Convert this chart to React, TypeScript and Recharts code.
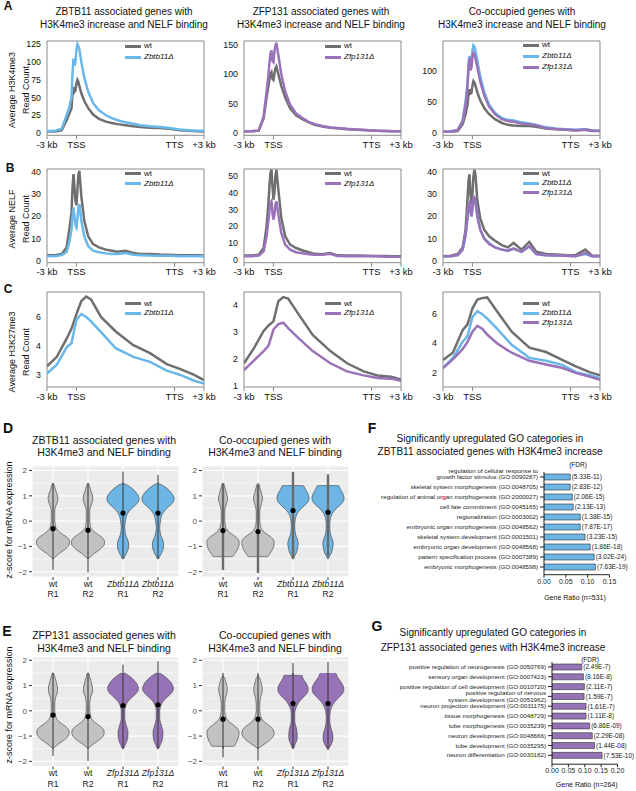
import React from 'react';
import {
  LineChart, Line, XAxis, YAxis, ReferenceArea, ComposedChart, Area,
  ReferenceLine, ReferenceDot, CartesianGrid, BarChart, Bar, LabelList,
} from 'recharts';

const FONT = '"Liberation Sans", Arial, Helvetica, sans-serif';
const WT = '#6f6f6f';
const BLUE = '#6ab7ea';
const PURPLE = '#9a72b9';
const V_GRAY = '#c2c2c2';
const V_BLUE = '#6cb5e5';
const V_PURPLE = '#9573b6';

// ---- metagene profiles (bin 0 = -3 kb, 30 = TSS, 130 = TTS, 160 = +3 kb) ----
const profileTicks = [0, 30, 130, 160];
const profileTickLabels = ['-3 kb', 'TSS', 'TTS', '+3 kb'];
const peakBins = [0, 8, 15, 20, 23, 25, 26, 27, 28, 29, 30, 31, 32, 33, 35, 38, 42, 47, 53, 60, 66, 72, 80, 88, 95, 105, 115, 125, 135, 145, 152, 160];
const broadBins = [0, 10, 20, 25, 30, 35, 40, 45, 55, 70, 88, 105, 122, 136, 150, 160];

// A: H3K4me3
const a1Wt = [2, 2, 4, 18, 28, 35, 55, 65, 58, 60, 70, 75, 72, 66, 56, 45, 35, 26, 20, 16, 14, 12.5, 11, 9.5, 8.5, 7.5, 7, 6, 4, 3, 2.5, 2];
const a1Zbtb = [2.5, 3, 6, 25, 38, 50, 85, 105, 95, 100, 118, 125, 122, 118, 100, 78, 58, 42, 32, 25, 21, 18, 15, 13, 11, 9.5, 8.5, 7, 5, 4, 3, 3];
const a2Wt = [3, 3, 4, 25, 60, 80, 92, 100, 103, 92, 90, 100, 110, 113, 100, 80, 60, 42, 30, 23, 18, 14, 11, 9, 8, 6.5, 5.5, 4.5, 4, 3.5, 3, 3];
const a2Zfp = [3, 3, 4, 28, 70, 100, 120, 135, 140, 122, 120, 138, 148, 153, 132, 100, 70, 48, 33, 25, 19, 15, 12, 9.5, 8.5, 7, 6, 5, 4, 3.5, 3, 3];
const a3Wt = [2, 2, 3, 14, 30, 45, 62, 70, 63, 64, 76, 83, 81, 76, 65, 52, 40, 30, 22, 16, 13, 12, 11, 11, 10, 7, 6, 5, 4, 5, 3, 3];
const a3Zbtb = [2, 2.5, 5, 20, 50, 80, 110, 123, 110, 112, 132, 140, 138, 132, 115, 90, 65, 45, 32, 24, 21, 20, 17, 15, 13, 9, 7, 6, 5, 6, 4, 3.5];
const a3Zfp = [2, 2.5, 5, 18, 45, 75, 105, 120, 100, 105, 122, 128, 126, 120, 105, 82, 60, 42, 30, 22, 19, 18, 15, 14, 12, 8, 6.5, 5.5, 4.5, 5.5, 4, 3.5];

// B: NELF
const b1Wt = [2.5, 2.5, 3, 6, 15, 22, 33, 39, 33, 27, 25, 32, 39, 40.5, 29, 18, 11, 7.5, 6, 5, 4.5, 4, 4.5, 3.5, 3, 3, 2.8, 2.7, 2.5, 2.5, 2.4, 2.3];
const b1Zbtb = [2, 2, 2.5, 4, 9, 14, 20, 24, 20, 16, 15, 19, 24, 25.5, 18, 11, 6.5, 4.5, 3.8, 3.3, 3, 3, 3.5, 2.7, 2.5, 2.3, 2.2, 2.2, 2, 2, 2, 2];
const b2Wt = [2.5, 2.5, 3, 7, 20, 35, 45, 52, 54, 44, 36, 40, 50, 54, 42, 25, 14, 9, 7, 5.5, 4.5, 3.5, 3.2, 4, 2.6, 2.5, 2.5, 2.3, 2.2, 2.2, 2, 2];
const b2Zfp = [2, 2, 2.5, 5, 14, 24, 30, 34, 35, 28, 24, 27, 33, 35, 27, 16, 9, 6, 4.5, 3.8, 3.3, 3, 3, 3.5, 2.2, 2, 2, 2, 2, 1.8, 1.8, 1.8];
const b3Wt = [2, 2.2, 3, 6, 14, 28, 36, 39, 30, 25, 30, 38, 41, 39, 27, 19, 14, 11, 9, 7, 6, 8, 5, 8.5, 4, 3, 2.8, 2.6, 2.5, 5, 2.3, 2.2];
const b3Zbtb = [2, 2, 2.5, 5, 11, 19, 24, 25, 22, 20, 23, 27, 28, 27, 20, 14, 10, 8, 6, 5, 4.5, 5.5, 4, 6.5, 3, 2.5, 2.3, 2.2, 2, 3, 2, 2];
const b3Zfp = [2, 2, 2.5, 5, 12, 20, 25, 26, 22, 20, 24, 28, 28.5, 27, 20, 14, 10, 7.5, 6, 5, 4.5, 5.5, 4, 6.5, 3, 2.5, 2.3, 2.2, 2, 3.5, 2, 2];

// C: H3K27me3
const c1Wt = [2.6, 3.25, 4.5, 5.2, 6.2, 7.1, 7.4, 7.2, 6.0, 5.0, 4.05, 3.5, 2.75, 2.4, 2.0, 1.65];
const c1Zbtb = [2.1, 2.7, 3.9, 4.2, 5.8, 6.2, 6.0, 5.7, 4.95, 3.85, 3.25, 2.9, 2.3, 2.0, 1.6, 1.4];
const c2Wt = [1.85, 2.4, 3.05, 3.25, 3.4, 4.15, 4.3, 4.25, 3.7, 2.9, 2.3, 1.85, 1.55, 1.4, 1.35, 1.25];
const c2Zfp = [1.6, 1.95, 2.3, 2.5, 3.1, 3.3, 3.35, 3.15, 2.8, 2.3, 1.85, 1.55, 1.4, 1.3, 1.28, 1.2];
const c3Wt = [2.85, 3.35, 4.9, 5.3, 6.4, 7.0, 7.1, 7.15, 6.2, 4.8, 3.7, 3.4, 2.85, 2.4, 2.0, 1.8];
const c3Zbtb = [2.3, 3.0, 4.1, 4.5, 5.8, 6.2, 6.0, 5.7, 5.0, 3.9, 3.0, 2.8, 2.5, 2.0, 1.8, 1.6];
const c3Zfp = [2.3, 2.9, 3.6, 4.1, 4.8, 5.2, 5.0, 4.6, 4.0, 3.35, 2.8, 2.55, 2.3, 1.95, 1.7, 1.5];

// ---- violins: half-widths (category units) at each z ----
const zGrid = [-1.5, -1.41, -1.4, -1.3, -1.2, -1.1, -1.0, -0.9, -0.8, -0.7, -0.6, -0.5, -0.4, -0.3, -0.2, -0.1, 0, 0.1, 0.2, 0.3, 0.4, 0.5, 0.6, 0.7, 0.8, 0.9, 1.0, 1.1, 1.2, 1.3, 1.4, 1.41, 1.5];
const zTicks = [-2, -1, 0, 1, 2];
const zMinor = [-1.5, -0.5, 0.5, 1.5];
const dWt = [0, 0.07, 0.08, 0.16, 0.26, 0.36, 0.43, 0.47, 0.47, 0.44, 0.36, 0.25, 0.16, 0.1, 0.07, 0.06, 0.05, 0.05, 0.05, 0.05, 0.05, 0.06, 0.08, 0.11, 0.13, 0.14, 0.13, 0.11, 0.08, 0.06, 0.04, 0.04, 0];
const dKo = [0, 0.05, 0.05, 0.09, 0.12, 0.15, 0.16, 0.16, 0.15, 0.12, 0.09, 0.07, 0.06, 0.05, 0.05, 0.06, 0.07, 0.08, 0.1, 0.13, 0.18, 0.25, 0.33, 0.4, 0.45, 0.46, 0.44, 0.39, 0.33, 0.25, 0.15, 0.14, 0];
const d2Wt = [0, 0, 0.28, 0.33, 0.38, 0.42, 0.45, 0.46, 0.46, 0.42, 0.34, 0.24, 0.15, 0.1, 0.07, 0.06, 0.05, 0.05, 0.05, 0.05, 0.05, 0.06, 0.08, 0.1, 0.12, 0.13, 0.12, 0.1, 0.08, 0.06, 0.04, 0.04, 0];
const d2Ko = [0, 0.04, 0.04, 0.08, 0.11, 0.13, 0.14, 0.15, 0.14, 0.12, 0.09, 0.07, 0.06, 0.05, 0.05, 0.05, 0.06, 0.07, 0.09, 0.12, 0.17, 0.24, 0.32, 0.39, 0.44, 0.46, 0.45, 0.42, 0.38, 0.34, 0.3, 0, 0];
const eWt = [0, 0.07, 0.08, 0.17, 0.27, 0.37, 0.43, 0.46, 0.46, 0.42, 0.34, 0.24, 0.15, 0.1, 0.07, 0.06, 0.05, 0.05, 0.05, 0.05, 0.06, 0.07, 0.09, 0.12, 0.13, 0.13, 0.12, 0.1, 0.08, 0.06, 0.04, 0.04, 0];
const eKo = [0, 0.05, 0.05, 0.08, 0.11, 0.13, 0.14, 0.14, 0.14, 0.12, 0.1, 0.08, 0.06, 0.05, 0.05, 0.05, 0.05, 0.06, 0.08, 0.11, 0.16, 0.23, 0.31, 0.38, 0.43, 0.44, 0.42, 0.38, 0.32, 0.25, 0.16, 0.15, 0.05];
const e2Wt1 = [0, 0, 0.32, 0.36, 0.4, 0.43, 0.45, 0.46, 0.45, 0.41, 0.33, 0.24, 0.15, 0.1, 0.07, 0.06, 0.05, 0.05, 0.05, 0.05, 0.06, 0.07, 0.09, 0.11, 0.12, 0.12, 0.11, 0.09, 0.07, 0.05, 0, 0, 0];
const e2Wt2 = [0, 0.09, 0.1, 0.2, 0.3, 0.38, 0.44, 0.46, 0.45, 0.41, 0.33, 0.24, 0.15, 0.1, 0.07, 0.06, 0.05, 0.05, 0.05, 0.05, 0.06, 0.07, 0.09, 0.11, 0.12, 0.12, 0.11, 0.09, 0.07, 0.05, 0, 0, 0];
const e2Ko1 = [0, 0.04, 0.04, 0.07, 0.1, 0.12, 0.12, 0.12, 0.11, 0.1, 0.08, 0.06, 0.05, 0.05, 0.05, 0.05, 0.06, 0.08, 0.11, 0.15, 0.2, 0.27, 0.34, 0.4, 0.43, 0.43, 0.41, 0.37, 0.32, 0.28, 0.26, 0, 0];
const e2Ko2 = [0.03, 0.06, 0.07, 0.1, 0.13, 0.14, 0.14, 0.13, 0.11, 0.09, 0.07, 0.06, 0.05, 0.05, 0.05, 0.06, 0.07, 0.09, 0.12, 0.16, 0.22, 0.29, 0.36, 0.42, 0.45, 0.45, 0.43, 0.39, 0.34, 0.29, 0.25, 0.25, 0.21];

const dCats = ['wt', 'wt', 'Zbtb11Δ', 'Zbtb11Δ'];
const eCats = ['wt', 'wt', 'Zfp131Δ', 'Zfp131Δ'];
const reps = ['R1', 'R2', 'R1', 'R2'];
const d1Means = [-0.3, -0.36, 0.32, 0.32];
const d1Lo = [-1.93, -2.03, -1.5, -1.5];
const d1Hi = [1.5, 1.5, 1.96, 1.83];
const d2Means = [-0.37, -0.41, 0.42, 0.35];
const d2Lo = [-1.93, -2.05, -1.48, -1.4];
const d2Hi = [1.5, 1.45, 1.95, 1.85];
const e1Means = [-0.17, -0.23, 0.21, 0.24];
const e1Lo = [-1.78, -1.98, -1.52, -1.52];
const e1Hi = [1.51, 1.5, 1.83, 1.96];
const e2Means = [-0.33, -0.33, 0.29, 0.29];
const e2Lo = [-1.85, -1.97, -1.5, -1.55];
const e2Hi = [1.4, 1.42, 1.89, 1.93];

// ---- GO enrichment ----
const fTerms = [
  'regulation of cellular response to\ngrowth factor stimulus (GO:0090287)',
  'skeletal system morphogenesis (GO:0048705)',
  'regulation of animal organ morphogenesis (GO:2000027)',
  'cell fate commitment (GO:0045165)',
  'regionalization (GO:0003002)',
  'embryonic organ morphogenesis (GO:0048562)',
  'skeletal system development (GO:0001501)',
  'embryonic organ development (GO:0048568)',
  'pattern specification process (GO:0007389)',
  'embryonic morphogenesis (GO:0048598)',
];
const fRatios = [0.06, 0.06, 0.065, 0.067, 0.083, 0.083, 0.094, 0.106, 0.115, 0.118];
const fFdr = ['(5.33E-11)', '(2.83E-12)', '(2.06E-15)', '(2.13E-13)', '(1.38E-15)', '(7.87E-17)', '(3.23E-15)', '(1.86E-18)', '(3.02E-24)', '(7.63E-19)'];
const fTicks = [0, 0.05, 0.1, 0.15];

const gTerms = [
  'positive regulation of neurogenesis (GO:0050769)',
  'sensory organ development (GO:0007423)',
  'positive regulation of cell development (GO:0010720)',
  'positive regulation of nervous\nsystem development (GO:0051962)',
  'neuron projection development (GO:0031175)',
  'tissue morphogenesis (GO:0048729)',
  'tube morphogenesis (GO:0035239)',
  'neuron development (GO:0048666)',
  'tube development (GO:0035295)',
  'neuron differentiation (GO:0030182)',
];
const gRatios = [0.091, 0.096, 0.099, 0.098, 0.104, 0.104, 0.115, 0.123, 0.13, 0.153];
const gFdr = ['(2.49E-7)', '(8.16E-8)', '(2.11E-7)', '(1.59E-7)', '(1.61E-7)', '(1.11E-8)', '(6.86E-09)', '(2.29E-08)', '(1.44E-08)', '(7.53E-10)'];
const gTicks = [0, 0.05, 0.1, 0.15, 0.2];

type Row = Record<string, any>;
type Series = { name: string; values: number[]; color: string };

function Txt({ x, y, size = 10, anchor = 'middle', bold = false, italic = false, rotate = false, color = '#111', children }: any) {
  const tx = anchor === 'middle' ? '-50%' : anchor === 'end' ? '-100%' : '0';
  return (
    <div
      style={{
        position: 'absolute', left: x, top: y, whiteSpace: 'nowrap', lineHeight: 1,
        fontSize: size, fontWeight: bold ? 700 : 400, fontStyle: italic ? 'italic' : 'normal', color,
        transform: `translate(${rotate ? '-50%' : tx}, -50%)${rotate ? ' rotate(-90deg)' : ''}`,
      }}
    >
      {children}
    </div>
  );
}

function LegendBox({ x, y, gap, items }: { x: number; y: number; gap: number; items: Series[] }) {
  return (
    <>
      {items.map((s, i) => (
        <div key={s.name} style={{ position: 'absolute', left: x, top: y + i * gap, transform: 'translateY(-50%)', display: 'flex', alignItems: 'center', lineHeight: 1 }}>
          <span style={{ display: 'inline-block', width: 16, height: 3, background: s.color, marginRight: 3 }} />
          <span style={{ fontSize: 8, fontStyle: s.name === 'wt' ? 'normal' : 'italic', color: '#111' }}>{s.name}</span>
        </div>
      ))}
    </>
  );
}

function Profile({ x, y, w, h, bins, series, domain, ticks, tickText }: any) {
  const yw = 36, xh = 20, mr = 18, mt = 3;
  const data = bins.map((b: number, i: number) => {
    const row: Row = { bin: b };
    series.forEach((s: Series, k: number) => { row['s' + k] = s.values[i]; });
    return row;
  });
  return (
    <div style={{ position: 'absolute', left: x - yw, top: y - mt }}>
      <LineChart width={yw + w + mr} height={mt + h + xh} data={data} margin={{ top: mt, right: mr, bottom: 0, left: 0 }}>
        <XAxis
          dataKey="bin" type="number" domain={[0, 160]} ticks={profileTicks} interval={0} allowDataOverflow
          tickFormatter={(v: number) => profileTickLabels[profileTicks.indexOf(v)]}
          axisLine={false} tickLine={{ stroke: '#8a8a8a' }} tickSize={4} tickMargin={2}
          tick={{ fontSize: 9.5, fill: '#111' }} height={xh}
        />
        <YAxis
          type="number" domain={domain} ticks={ticks} interval={0} allowDataOverflow
          tickFormatter={(v: number) => (tickText ? tickText[ticks.indexOf(v)] : String(v))}
          axisLine={false} tickLine={false} tickSize={4} tickMargin={2} width={yw}
          tick={{ fontSize: 8.8, fill: '#111' }}
        />
        <ReferenceArea x1={0} x2={160} y1={domain[0]} y2={domain[1]} fill="none" stroke="#8a8a8a" strokeWidth={1} ifOverflow="visible" />
        {series.map((s: Series, k: number) => (
          <Line key={s.name} dataKey={'s' + k} type="linear" stroke={s.color} strokeWidth={2.5} dot={false} isAnimationActive={false} />
        ))}
      </LineChart>
    </div>
  );
}

function ViolinTick(props: any) {
  const { x, y, payload, cats } = props;
  const i = Math.round(payload.value) - 1;
  if (i < 0 || i > 3) return null;
  return (
    <text x={x} y={y} textAnchor="middle" fontSize={8.6} fill="#1a1a1a">
      <tspan x={x} dy="0.71em" fontStyle={cats[i] === 'wt' ? 'normal' : 'italic'}>{cats[i]}</tspan>
      <tspan x={x} dy="1.2em">{reps[i]}</tspan>
    </text>
  );
}

function ViolinPanel({ x, y, w, h, domain, shapes, fill, cats, means, lo, hi, whisker }: any) {
  const yw = 32, xh = 28, mt = 2, mr = 4;
  const data = zGrid.map((z, i) => {
    const row: Row = { z };
    shapes.forEach((s: number[], k: number) => { row['w' + k] = s[i]; });
    return row;
  });
  return (
    <div style={{ position: 'absolute', left: x - yw, top: y - mt }}>
      <ComposedChart layout="vertical" width={yw + w + mr} height={mt + h + xh} data={data} margin={{ top: mt, right: mr, bottom: 0, left: 0 }}>
        <CartesianGrid fill="#ebebeb" stroke="#ffffff" strokeWidth={0.5} vertical={false} horizontalValues={zMinor} />
        <CartesianGrid stroke="#ffffff" strokeWidth={1.1} />
        <XAxis
          type="number" domain={[0.4, 4.6]} ticks={[1, 2, 3, 4]} interval={0} allowDataOverflow
          axisLine={false} tickLine={{ stroke: '#333' }} tickSize={3} tickMargin={1} height={xh}
          tick={(p: any) => <ViolinTick {...p} cats={cats} />}
        />
        <YAxis
          type="number" dataKey="z" domain={domain} ticks={zTicks} interval={0} reversed allowDataOverflow
          axisLine={false} tickLine={{ stroke: '#333' }} tickSize={3} tickMargin={2} width={yw}
          tickFormatter={(v: number) => String(v).replace('-', '−')}
          tick={{ fontSize: 8, fill: '#4d4d4d' }}
        />
        {shapes.map((_s: any, k: number) => (
          <Area
            key={'v' + k}
            dataKey={(d: Row) => [k + 1 - d['w' + k], k + 1 + d['w' + k]]}
            type="monotone" fill={fill[k]} fillOpacity={1} stroke="#3a3a3a" strokeWidth={0.6}
            isAnimationActive={false} dot={false} activeDot={false}
          />
        ))}
        {means.map((_m: number, k: number) => (
          <ReferenceLine key={'l' + k} segment={[{ x: k + 1, y: lo[k] }, { x: k + 1, y: hi[k] }]} stroke={whisker.color} strokeWidth={whisker.width} ifOverflow="visible" />
        ))}
        {means.map((m: number, k: number) => (
          <ReferenceDot key={'d' + k} x={k + 1} y={m} r={2.6} fill="#000" stroke="none" ifOverflow="visible" />
        ))}
      </ComposedChart>
    </div>
  );
}

function GoTick(props: any) {
  const { x, y, payload, centered } = props;
  const lines = String(payload.value).split('\n');
  const lh = 6.2;
  const first = centered ? -((lines.length - 1) * lh) / 2 : -(lines.length - 1) * lh;
  return (
    <text x={x} y={y} textAnchor="end" fontSize={6.2} fill="#222">
      {lines.map((l, i) => (
        <tspan key={i} x={x} y={y + first + i * lh} dy="0.35em">{l}</tspan>
      ))}
    </text>
  );
}

function GoChart({ x, y, w, h, padBottom, terms, ratios, fdrs, color, ticks, centered }: any) {
  const yw = 200, xh = 16, mt = 10, mr = 30;
  const data = terms.map((t: string, i: number) => ({ term: t, ratio: ratios[i], fdr: fdrs[i] }));
  return (
    <div style={{ position: 'absolute', left: x - yw, top: y - mt }}>
      <BarChart layout="vertical" width={yw + w + mr} height={mt + h + xh} data={data} margin={{ top: mt, right: mr, bottom: 0, left: 0 }}>
        <XAxis
          type="number" domain={[0, ticks[ticks.length - 1]]} ticks={ticks} interval={0} allowDataOverflow
          tickFormatter={(v: number) => v.toFixed(2)} axisLine={{ stroke: '#222' }} tickLine={{ stroke: '#222' }}
          tickSize={3} tickMargin={1} tick={{ fontSize: 7, fill: '#222' }} height={xh}
        />
        <YAxis
          type="category" dataKey="term" width={yw} interval={0} padding={{ top: 0, bottom: padBottom }}
          axisLine={{ stroke: '#222' }} tickLine={{ stroke: '#222' }} tickSize={4} tickMargin={2}
          tick={(p: any) => <GoTick {...p} centered={centered} />}
        />
        <Bar dataKey="ratio" fill={color} stroke="#333" strokeWidth={0.6} barSize={6} isAnimationActive={false}>
          <LabelList dataKey="fdr" position="right" offset={1.5} fontSize={6.5} fill="#222" />
        </Bar>
      </BarChart>
    </div>
  );
}

const COLS = [47, 243.5, 443];
const PW = 157;

export default function App() {
  const legendX = [125, 325, 523];
  return (
    <div style={{ position: 'absolute', left: 0, top: 0, width: 636, height: 791, background: '#fff', fontFamily: FONT, overflow: 'hidden' }}>
      {/* panel letters */}
      <Txt x={8} y={6} size={12} bold>A</Txt>
      <Txt x={10} y={168} size={12} bold>B</Txt>
      <Txt x={8} y={289} size={12} bold>C</Txt>
      <Txt x={8} y={428} size={14} bold>D</Txt>
      <Txt x={7} y={631} size={14} bold>E</Txt>
      <Txt x={372} y={428} size={14} bold>F</Txt>
      <Txt x={377} y={626} size={14} bold>G</Txt>

      {/* A-C column titles */}
      <Txt x={124} y={11.7} size={10}>ZBTB11 associated genes with</Txt>
      <Txt x={124} y={25} size={10}>H3K4me3 increase and NELF binding</Txt>
      <Txt x={321} y={11.7} size={10}>ZFP131 associated genes with</Txt>
      <Txt x={321} y={25} size={10}>H3K4me3 increase and NELF binding</Txt>
      <Txt x={522} y={11.7} size={10}>Co-occupied genes with</Txt>
      <Txt x={522} y={25} size={10}>H3K4me3 increase and NELF binding</Txt>

      {/* y titles */}
      <Txt x={12.2} y={90} size={9} rotate>Average H3K4me3</Txt>
      <Txt x={25.5} y={90} size={9} rotate>Read Count</Txt>
      <Txt x={12.2} y={219} size={9} rotate>Average NELF</Txt>
      <Txt x={25.5} y={219} size={9} rotate>Read Count</Txt>
      <Txt x={12.2} y={352} size={9} rotate>Average H3K27me3</Txt>
      <Txt x={25.5} y={352} size={9} rotate>Read Count</Txt>

      {/* row A */}
      <Profile x={COLS[0]} y={40.7} w={PW} h={94.3} bins={peakBins} domain={[-3.25, 129.65]} ticks={[0, 25, 50, 75, 100, 125]}
        series={[{ name: 'wt', values: a1Wt, color: WT }, { name: 'Zbtb11Δ', values: a1Zbtb, color: BLUE }]} />
      <Profile x={COLS[1]} y={40.7} w={PW} h={94.3} bins={peakBins} domain={[-3.9, 156]} ticks={[0, 50, 100, 150]}
        series={[{ name: 'wt', values: a2Wt, color: WT }, { name: 'Zfp131Δ', values: a2Zfp, color: PURPLE }]} />
      <Profile x={COLS[2]} y={40.7} w={PW} h={94.3} bins={peakBins} domain={[-3.7, 147]} ticks={[0, 50, 100]}
        series={[{ name: 'wt', values: a3Wt, color: WT }, { name: 'Zbtb11Δ', values: a3Zbtb, color: BLUE }, { name: 'Zfp131Δ', values: a3Zfp, color: PURPLE }]} />
      <LegendBox x={legendX[0]} y={46} gap={11} items={[{ name: 'wt', values: [], color: WT }, { name: 'Zbtb11Δ', values: [], color: BLUE }]} />
      <LegendBox x={legendX[1]} y={46} gap={11} items={[{ name: 'wt', values: [], color: WT }, { name: 'Zfp131Δ', values: [], color: PURPLE }]} />
      <LegendBox x={legendX[2]} y={45} gap={11} items={[{ name: 'wt', values: [], color: WT }, { name: 'Zbtb11Δ', values: [], color: BLUE }, { name: 'Zfp131Δ', values: [], color: PURPLE }]} />

      {/* row B */}
      <Profile x={COLS[0]} y={169.3} w={PW} h={93.7} bins={peakBins} domain={[-0.9, 41.35]} ticks={[0, 10, 20, 30, 40]}
        series={[{ name: 'wt', values: b1Wt, color: WT }, { name: 'Zbtb11Δ', values: b1Zbtb, color: BLUE }]} />
      <Profile x={COLS[1]} y={169.3} w={PW} h={93.7} bins={peakBins} domain={[-1.8, 54.4]} ticks={[0, 10, 20, 30, 40, 50]}
        series={[{ name: 'wt', values: b2Wt, color: WT }, { name: 'Zfp131Δ', values: b2Zfp, color: PURPLE }]} />
      <Profile x={COLS[2]} y={169.3} w={PW} h={93.7} bins={peakBins} domain={[-0.9, 41.35]} ticks={[0, 10, 20, 30, 40]}
        series={[{ name: 'wt', values: b3Wt, color: WT }, { name: 'Zbtb11Δ', values: b3Zbtb, color: BLUE }, { name: 'Zfp131Δ', values: b3Zfp, color: PURPLE }]} />
      <LegendBox x={legendX[0]} y={173.5} gap={10} items={[{ name: 'wt', values: [], color: WT }, { name: 'Zbtb11Δ', values: [], color: BLUE }]} />
      <LegendBox x={legendX[1]} y={173.5} gap={10} items={[{ name: 'wt', values: [], color: WT }, { name: 'Zfp131Δ', values: [], color: PURPLE }]} />
      <LegendBox x={legendX[2]} y={173.5} gap={9.5} items={[{ name: 'wt', values: [], color: WT }, { name: 'Zbtb11Δ', values: [], color: BLUE }, { name: 'Zfp131Δ', values: [], color: PURPLE }]} />

      {/* row C */}
      <Profile x={COLS[0]} y={291.7} w={PW} h={95} bins={broadBins} domain={[1.17, 7.72]} ticks={[2, 4, 6]} tickText={['3', '4', '6']}
        series={[{ name: 'wt', values: c1Wt, color: WT }, { name: 'Zbtb11Δ', values: c1Zbtb, color: BLUE }]} />
      <Profile x={COLS[1]} y={291.7} w={PW} h={95} bins={broadBins} domain={[0.97, 4.49]} ticks={[1, 2, 3, 4]}
        series={[{ name: 'wt', values: c2Wt, color: WT }, { name: 'Zfp131Δ', values: c2Zfp, color: PURPLE }]} />
      <Profile x={COLS[2]} y={291.7} w={PW} h={95} bins={broadBins} domain={[1.0, 7.52]} ticks={[2, 4, 6]}
        series={[{ name: 'wt', values: c3Wt, color: WT }, { name: 'Zbtb11Δ', values: c3Zbtb, color: BLUE }, { name: 'Zfp131Δ', values: c3Zfp, color: PURPLE }]} />
      <LegendBox x={legendX[0]} y={303.5} gap={9.5} items={[{ name: 'wt', values: [], color: WT }, { name: 'Zbtb11Δ', values: [], color: BLUE }]} />
      <LegendBox x={legendX[1]} y={303.5} gap={9.5} items={[{ name: 'wt', values: [], color: WT }, { name: 'Zfp131Δ', values: [], color: PURPLE }]} />
      <LegendBox x={legendX[2]} y={303.5} gap={9.5} items={[{ name: 'wt', values: [], color: WT }, { name: 'Zbtb11Δ', values: [], color: BLUE }, { name: 'Zfp131Δ', values: [], color: PURPLE }]} />

      {/* D */}
      <Txt x={104} y={440} size={10.5}>ZBTB11 associated genes with</Txt>
      <Txt x={104} y={452} size={10.5}>H3K4me3 and NELF binding</Txt>
      <Txt x={275} y={440} size={10.5}>Co-occupied genes with</Txt>
      <Txt x={275} y={452} size={10.5}>H3K4me3 and NELF binding</Txt>
      <Txt x={9} y={520} size={9} rotate>z-score for mRNA expression</Txt>
      <ViolinPanel x={31.7} y={466} w={147} h={111} domain={[-2.21, 2.18]} shapes={[dWt, dWt, dKo, dKo]}
        fill={[V_GRAY, V_GRAY, V_BLUE, V_BLUE]} cats={dCats} means={d1Means} lo={d1Lo} hi={d1Hi} whisker={{ color: '#333', width: 1 }} />
      <ViolinPanel x={202.3} y={466} w={147} h={111} domain={[-2.21, 2.18]} shapes={[d2Wt, d2Wt, d2Ko, d2Ko]}
        fill={[V_GRAY, V_GRAY, V_BLUE, V_BLUE]} cats={dCats} means={d2Means} lo={d2Lo} hi={d2Hi} whisker={{ color: '#6a6a6a', width: 2.4 }} />

      {/* E */}
      <Txt x={104} y={635} size={10.5}>ZFP131 associated genes with</Txt>
      <Txt x={104} y={648} size={10.5}>H3K4me3 and NELF binding</Txt>
      <Txt x={275} y={635} size={10.5}>Co-occupied genes with</Txt>
      <Txt x={275} y={648} size={10.5}>H3K4me3 and NELF binding</Txt>
      <Txt x={9} y={705} size={9} rotate>z-score for mRNA expression</Txt>
      <ViolinPanel x={31.7} y={657.3} w={147} h={109.4} domain={[-2.2, 2.13]} shapes={[eWt, eWt, eKo, eKo]}
        fill={[V_GRAY, V_GRAY, V_PURPLE, V_PURPLE]} cats={eCats} means={e1Means} lo={e1Lo} hi={e1Hi} whisker={{ color: '#333', width: 1 }} />
      <ViolinPanel x={202.3} y={657.3} w={147} h={109.4} domain={[-2.2, 2.13]} shapes={[e2Wt1, e2Wt2, e2Ko1, e2Ko2]}
        fill={[V_GRAY, V_GRAY, V_PURPLE, V_PURPLE]} cats={eCats} means={e2Means} lo={e2Lo} hi={e2Hi} whisker={{ color: '#333', width: 1 }} />

      {/* F */}
      <Txt x={490} y={439} size={10}>Significantly upregulated GO categories in</Txt>
      <Txt x={490} y={451.7} size={10}>ZBTB11 associated genes with H3K4me3 increase</Txt>
      <Txt x={578} y={465} size={6.5}>(FDR)</Txt>
      <GoChart x={543.5} y={472.3} w={65.5} h={102.7} padBottom={2.7} terms={fTerms} ratios={fRatios} fdrs={fFdr}
        color={V_BLUE} ticks={fTicks} centered={false} />
      <Txt x={575} y={596.7} size={7}>Gene Ratio (n=531)</Txt>

      {/* G */}
      <Txt x={493} y={633.3} size={10}>Significantly upregulated GO categories in</Txt>
      <Txt x={493} y={647.7} size={10}>ZFP131 associated genes with H3K4me3 increase</Txt>
      <Txt x={590} y={660} size={6.5}>(FDR)</Txt>
      <GoChart x={552} y={661.8} w={65.5} h={102.2} padBottom={4} terms={gTerms} ratios={gRatios} fdrs={gFdr}
        color={V_PURPLE} ticks={gTicks} centered />
      <Txt x={586.7} y={784.3} size={7}>Gene Ratio (n=264)</Txt>
    </div>
  );
}
